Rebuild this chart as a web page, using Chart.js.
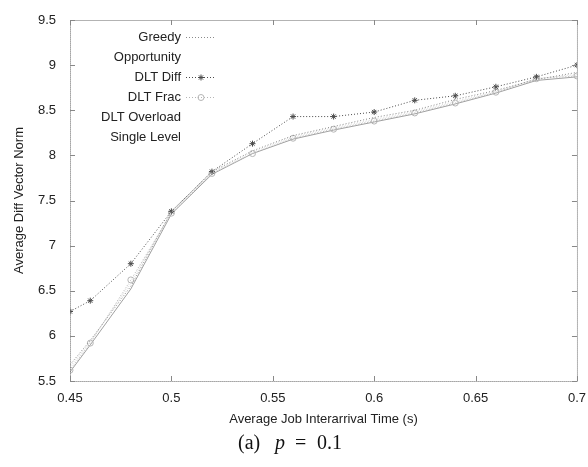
<!DOCTYPE html>
<html>
<head>
<meta charset="utf-8">
<script src="https://cdn.jsdelivr.net/npm/chart.js@4"></script>
<style>
  html, body { margin: 0; padding: 0; background: #fff; }
  #wrap { width: 588px; height: 467px; }
</style>
</head>
<body>
<div id="wrap"><canvas id="chart" width="588" height="467"></canvas></div>
<script>
// data
const xValues = [0.45, 0.46, 0.48, 0.50, 0.52, 0.54, 0.56, 0.58, 0.60, 0.62, 0.64, 0.66, 0.68, 0.70];
const greedy = [5.68, 5.95, 6.55, 7.38, 7.82, 8.05, 8.22, 8.32, 8.42, 8.50, 8.62, 8.72, 8.84, 8.92];
const opportunity = [5.66, 5.94, 6.58, 7.37, 7.81, 8.04, 8.21, 8.31, 8.40, 8.49, 8.60, 8.71, 8.85, 8.90];
const dltDiff = [6.27, 6.39, 6.80, 7.38, 7.82, 8.13, 8.43, 8.43, 8.48, 8.61, 8.66, 8.76, 8.87, 9.00];
const dltFrac = [5.62, 5.92, 6.62, 7.36, 7.80, 8.02, 8.19, 8.29, 8.38, 8.47, 8.58, 8.70, 8.85, 8.88];
const dltOverload = [5.64, 5.93, 6.60, 7.37, 7.80, 8.03, 8.20, 8.30, 8.39, 8.48, 8.59, 8.70, 8.85, 8.89];
const singleLevel = [5.60, 5.90, 6.52, 7.35, 7.79, 8.02, 8.18, 8.28, 8.37, 8.46, 8.57, 8.69, 8.83, 8.87];
const yTicks = [5.5, 6, 6.5, 7, 7.5, 8, 8.5, 9, 9.5];
const xTicks = [0.45, 0.5, 0.55, 0.6, 0.65, 0.7];

const font = "Liberation Sans, Arial, sans-serif";

function pts(ys) {
  return xValues.map((x, i) => ({ x: x, y: ys[i] }));
}

function series(label, ys, color, dash, style, showSample) {
  return {
    label: label,
    data: pts(ys),
    borderColor: color,
    backgroundColor: "rgba(0,0,0,0)",
    borderWidth: 1,
    borderDash: dash,
    pointStyle: style || false,
    pointRadius: style ? 3 : 0,
    pointBorderColor: color,
    pointBackgroundColor: "rgba(0,0,0,0)",
    pointBorderWidth: 1,
    tension: 0,
    showSample: showSample
  };
}

// box, inward ticks, legend, titles and caption
const figurePlugin = {
  id: "figure",
  afterDraw(chart) {
    const ctx = chart.ctx;
    const a = chart.chartArea;
    const xs = chart.scales.x, ys = chart.scales.y;
    ctx.save();
    ctx.strokeStyle = "#666";
    ctx.lineWidth = 1;
    ctx.setLineDash([1, 1]);
    ctx.strokeRect(a.left + 0.5, a.top + 0.5, a.right - a.left, a.bottom - a.top);
    ctx.setLineDash([]);
    ctx.strokeStyle = "#888";
    xTicks.forEach(v => {
      const px = Math.round(xs.getPixelForValue(v)) + 0.5;
      ctx.beginPath();
      ctx.moveTo(px, a.bottom); ctx.lineTo(px, a.bottom - 5);
      ctx.moveTo(px, a.top); ctx.lineTo(px, a.top + 5);
      ctx.stroke();
    });
    yTicks.forEach(v => {
      const py = Math.round(ys.getPixelForValue(v)) + 0.5;
      ctx.beginPath();
      ctx.moveTo(a.left, py); ctx.lineTo(a.left + 5, py);
      ctx.moveTo(a.right, py); ctx.lineTo(a.right - 5, py);
      ctx.stroke();
    });

    // legend, labels right aligned with sample on the right
    ctx.font = "13px " + font;
    ctx.textAlign = "right";
    ctx.textBaseline = "middle";
    chart.data.datasets.forEach((ds, i) => {
      const y = 37 + i * 20;
      ctx.fillStyle = "#222";
      ctx.fillText(ds.label, 181, y);
      if (ds.showSample) {
        ctx.strokeStyle = ds.borderColor;
        ctx.setLineDash(ds.borderDash);
        ctx.beginPath();
        ctx.moveTo(186, y + 0.5); ctx.lineTo(216, y + 0.5);
        ctx.stroke();
        ctx.setLineDash([]);
        if (ds.pointStyle) {
          ctx.fillStyle = "rgba(0,0,0,0)";
          Chart.helpers.drawPoint(ctx, { pointStyle: ds.pointStyle, radius: 3, rotation: 0, borderWidth: 1 }, 201, y + 0.5);
        }
      }
    });

    // axis titles and caption
    ctx.fillStyle = "#222";
    ctx.textAlign = "center";
    ctx.fillText("Average Job Interarrival Time (s)", (a.left + a.right) / 2, 419);
    ctx.save();
    ctx.translate(19, (a.top + a.bottom) / 2);
    ctx.rotate(-Math.PI / 2);
    ctx.fillText("Average Diff Vector Norm", 0, 0);
    ctx.restore();
    ctx.textAlign = "left";
    ctx.fillStyle = "#111";
    ctx.font = "20px Liberation Serif, Times New Roman, serif";
    ctx.fillText("(a)", 238, 444);
    ctx.font = "italic 20px Liberation Serif, Times New Roman, serif";
    ctx.fillText("p", 275, 444);
    ctx.font = "20px Liberation Serif, Times New Roman, serif";
    ctx.fillText("=", 295, 444);
    ctx.fillText("0.1", 317, 444);
    ctx.restore();
  }
};

new Chart(document.getElementById("chart"), {
  type: "line",
  data: {
    datasets: [
      series("Greedy", greedy, "#8a8a8a", [1, 2], null, true),
      series("Opportunity", opportunity, "#dadada", [1, 2], null, false),
      series("DLT Diff", dltDiff, "#4a4a4a", [1, 2], "star", true),
      series("DLT Frac", dltFrac, "#b5b5b5", [1, 2], "circle", true),
      series("DLT Overload", dltOverload, "#e2e2e2", [1, 2], null, false),
      series("Single Level", singleLevel, "#a0a0a0", [], null, false)
    ]
  },
  options: {
    responsive: false,
    animation: false,
    layout: { padding: { top: 20, right: 10, left: 0, bottom: 0 } },
    plugins: { legend: { display: false }, tooltip: { enabled: false } },
    scales: {
      x: {
        type: "linear",
        min: 0.45,
        max: 0.7,
        afterFit: s => { s.height = 86; },
        afterBuildTicks: s => { s.ticks = xTicks.map(v => ({ value: v })); },
        grid: { display: false },
        border: { display: false },
        ticks: {
          font: { family: font, size: 13 },
          color: "#222",
          padding: 2,
          maxRotation: 0,
          callback: v => String(v)
        }
      },
      y: {
        type: "linear",
        min: 5.5,
        max: 9.5,
        afterFit: s => { s.width = 70; },
        afterBuildTicks: s => { s.ticks = yTicks.map(v => ({ value: v })); },
        grid: { display: false },
        border: { display: false },
        ticks: {
          font: { family: font, size: 13 },
          color: "#222",
          padding: 6,
          callback: v => String(v)
        }
      }
    }
  },
  plugins: [figurePlugin]
});
</script>
</body>
</html>
